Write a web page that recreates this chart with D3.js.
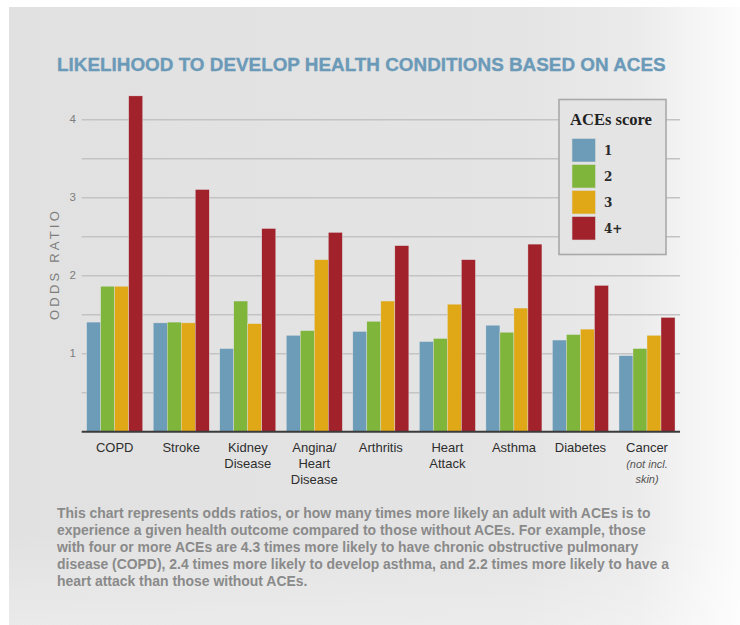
<!DOCTYPE html>
<html>
<head>
<meta charset="utf-8">
<script src="https://cdn.jsdelivr.net/npm/d3@7/dist/d3.min.js"></script>
<style>
  html, body { margin: 0; padding: 0; background: #ffffff; }
  svg { display: block; }
</style>
</head>
<body>
<div id="chart"></div>
<script>
// ---- Data -------------------------------------------------------------
const categories = ["COPD", "Stroke", "Kidney Disease", "Angina/Heart Disease", "Arthritis",
                    "Heart Attack", "Asthma", "Diabetes", "Cancer"];
const categoryLines = [["COPD"], ["Stroke"], ["Kidney", "Disease"], ["Angina/", "Heart", "Disease"],
                       ["Arthritis"], ["Heart", "Attack"], ["Asthma"], ["Diabetes"], ["Cancer"]];
const cancerNote = ["(not incl.", "skin)"];

const scores = ["1", "2", "3", "4+"];
const score1 = [1.40, 1.39, 1.06, 1.23, 1.28, 1.15, 1.36, 1.17, 0.97];
const score2 = [1.86, 1.40, 1.67, 1.29, 1.41, 1.19, 1.27, 1.24, 1.06];
const score3 = [1.86, 1.39, 1.38, 2.20, 1.67, 1.63, 1.58, 1.31, 1.23];
const score4 = [4.30, 3.10, 2.60, 2.55, 2.38, 2.20, 2.40, 1.87, 1.46];
const seriesValues = [score1, score2, score3, score4];

const yTicks = [1, 2, 3, 4];
const yGrid = [0.5, 1, 1.5, 2, 2.5, 3, 3.5, 4];

const titleText = "LIKELIHOOD TO DEVELOP HEALTH CONDITIONS BASED ON ACES";
const captionLines = [
  "This chart represents odds ratios, or how many times more likely an adult with ACEs is to",
  "experience a given health outcome compared to those without ACEs. For example, those",
  "with four or more ACEs are 4.3 times more likely to have chronic obstructive pulmonary",
  "disease (COPD), 2.4 times more likely to develop asthma, and 2.2 times more likely to have a",
  "heart attack than those without ACEs."
];

// ---- Layout -------------------------------------------------------------
const W = 740, H = 625;
const colors = ["#6c9cb7", "#80b53b", "#e0a817", "#a2222b"];
const plot = { left: 81.7, right: 680, top: 119.3, bottom: 431.3 };

const svg = d3.select("#chart").append("svg")
  .attr("width", W).attr("height", H)
  .attr("viewBox", `0 0 ${W} ${H}`);

// panel background with soft light falloff on the right
const defs = svg.append("defs");
const grad = defs.append("linearGradient").attr("id", "panelGrad")
  .attr("x1", "0").attr("y1", "0").attr("x2", "1").attr("y2", "0");
[[0, "#e1e1e1"], [0.7, "#e4e4e4"], [0.86, "#ebebeb"], [0.95, "#f6f6f6"], [1, "#fcfcfc"]]
  .forEach(([o, c]) => grad.append("stop").attr("offset", o).attr("stop-color", c));
const gradV = defs.append("linearGradient").attr("id", "panelFade")
  .attr("x1", "0").attr("y1", "0").attr("x2", "0").attr("y2", "1");
[[0, "#ffffff", 0], [0.85, "#ffffff", 0], [1, "#ffffff", 0.3]]
  .forEach(([o, c, a]) => gradV.append("stop").attr("offset", o).attr("stop-color", c).attr("stop-opacity", a));

svg.append("rect").attr("x", 9).attr("y", 7).attr("width", W - 9).attr("height", H - 7)
  .attr("fill", "url(#panelGrad)");
svg.append("rect").attr("x", 9).attr("y", 7).attr("width", W - 9).attr("height", H - 7)
  .attr("fill", "url(#panelFade)");

// helper: scale a text's font size so it spans a target width
function fitWidth(sel, target) {
  const size = parseFloat(sel.attr("font-size"));
  const w = sel.node().getComputedTextLength();
  sel.attr("font-size", (size * target / w).toFixed(2));
}

// ---- Title ----------------------------------------------------------------
const title = svg.append("text")
  .attr("x", 57).attr("y", 71)
  .attr("font-family", "'Liberation Sans', Arial, sans-serif")
  .attr("font-weight", "bold").attr("font-size", 18)
  .attr("fill", "#6b9ab8")
  .attr("stroke", "#6b9ab8").attr("stroke-width", 0.35)
  .text(titleText);
fitWidth(title, 609);

// ---- Scales -------------------------------------------------------------
const x0 = d3.scaleBand().domain(categories)
  .range([plot.left, plot.right]).paddingInner(0.158).paddingOuter(0.075);
const x1 = d3.scaleBand().domain(scores).range([0, x0.bandwidth()]).padding(0);
const y = d3.scaleLinear().domain([0, 4]).range([plot.bottom, plot.top]);

// ---- Gridlines ----------------------------------------------------------
const grid = svg.append("g")
  .attr("transform", `translate(${plot.left},0)`)
  .call(d3.axisLeft(y).tickValues(yGrid).tickSize(-(plot.right - plot.left)).tickFormat(""));
grid.select(".domain").remove();
grid.selectAll(".tick line").attr("stroke", "#c3c3c3").attr("stroke-width", 1.6);

// ---- Y axis labels ------------------------------------------------------
const yAxis = svg.append("g")
  .attr("transform", `translate(76,0)`)
  .call(d3.axisLeft(y).tickValues(yTicks).tickSize(0).tickPadding(0).tickFormat(d3.format("d")));
yAxis.select(".domain").remove();
yAxis.selectAll(".tick text")
  .attr("font-family", "'Liberation Sans', Arial, sans-serif")
  .attr("font-size", 11.5).attr("fill", "#7d7d7d");

svg.append("text")
  .attr("transform", "translate(58.5,264) rotate(-90)")
  .attr("text-anchor", "middle")
  .attr("font-family", "'Liberation Sans', Arial, sans-serif")
  .attr("font-size", 13).attr("letter-spacing", "3.2px")
  .attr("fill", "#7d7d7d")
  .text("ODDS RATIO");

// ---- Bars ---------------------------------------------------------------
const groups = svg.append("g").selectAll("g")
  .data(categories)
  .join("g")
  .attr("transform", d => `translate(${x0(d)},0)`);

groups.selectAll("rect")
  .data((d, i) => scores.map((s, k) => ({ score: s, k, value: seriesValues[k][i] })))
  .join("rect")
  .attr("x", d => x1(d.score))
  .attr("width", x1.bandwidth())
  .attr("y", d => y(d.value))
  .attr("height", d => y(0) - y(d.value))
  .attr("fill", d => colors[d.k])
  .attr("stroke", "#e2e2e2").attr("stroke-width", 0.4);

// baseline
svg.append("line")
  .attr("x1", plot.left).attr("x2", plot.right)
  .attr("y1", y(0) + 0.5).attr("y2", y(0) + 0.5)
  .attr("stroke", "#3b3b3b").attr("stroke-width", 2);

// ---- Category labels ----------------------------------------------------
const xl = svg.append("g");
categories.forEach((c, i) => {
  const cx = x0(c) + x0.bandwidth() / 2;
  const t = xl.append("text")
    .attr("x", cx).attr("y", 452)
    .attr("text-anchor", "middle")
    .attr("font-family", "'Liberation Sans', Arial, sans-serif")
    .attr("font-size", 13).attr("fill", "#2e2e2e");
  categoryLines[i].forEach((line, j) => {
    t.append("tspan").attr("x", cx).attr("dy", j === 0 ? 0 : 15.8).text(line);
  });
  if (c === "Cancer") {
    cancerNote.forEach((line, j) => {
      xl.append("text")
        .attr("x", cx).attr("y", 467.5 + j * 15.8)
        .attr("text-anchor", "middle")
        .attr("font-family", "'Liberation Sans', Arial, sans-serif")
        .attr("font-style", "italic")
        .attr("font-size", 11).attr("fill", "#555555")
        .text(line);
    });
  }
});

// ---- Legend -------------------------------------------------------------
const legend = svg.append("g");
legend.append("rect")
  .attr("x", 559).attr("y", 99.5).attr("width", 107).attr("height", 155)
  .attr("fill", "#e4e4e4").attr("stroke", "#a9a9a9").attr("stroke-width", 1.6);
const legTitle = legend.append("text")
  .attr("x", 570).attr("y", 125)
  .attr("font-family", "'Liberation Serif', 'DejaVu Serif', serif")
  .attr("font-weight", "bold").attr("font-size", 17)
  .attr("fill", "#222222")
  .text("ACEs score");
fitWidth(legTitle, 82);

const items = legend.selectAll("g.item")
  .data(scores)
  .join("g").attr("class", "item")
  .attr("transform", (d, i) => `translate(572,${138.5 + i * 26})`);
items.append("rect")
  .attr("width", 23.5).attr("height", 23.5)
  .attr("fill", (d, i) => colors[i])
  .attr("stroke", "#d8d8d8").attr("stroke-width", 0.6);
items.append("text")
  .attr("x", 32).attr("y", 16.5)
  .attr("font-family", "'DejaVu Serif', serif")
  .attr("font-weight", "bold").attr("font-size", 12)
  .attr("fill", "#2a2a2a")
  .text(d => d);

// ---- Caption ------------------------------------------------------------
const caption = svg.append("g");
const capTexts = captionLines.map((line, i) =>
  caption.append("text")
    .attr("x", 57).attr("y", 518 + i * 17)
    .attr("font-family", "'Liberation Sans', Arial, sans-serif")
    .attr("font-weight", "bold").attr("font-size", 13.5)
    .attr("fill", "#8a8a8a")
    .text(line));
// size the block so its longest line spans the column
const longest = capTexts[3];
const capSize = 13.5 * 612 / longest.node().getComputedTextLength();
capTexts.forEach(t => t.attr("font-size", capSize.toFixed(2)));
</script>
</body>
</html>
